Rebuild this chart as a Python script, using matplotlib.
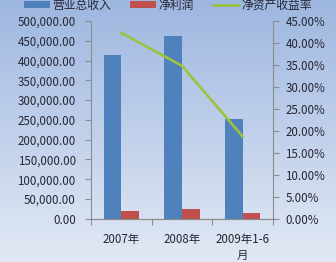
import matplotlib
matplotlib.use("Agg")
import matplotlib.pyplot as plt
import numpy as np
from matplotlib.ticker import FuncFormatter, FixedLocator

plt.rcParams['font.family'] = ['Noto Sans CJK SC', 'DejaVu Sans']

categories = ["2007年", "2008年", "2009年1-6\n月"]
revenue = [415000, 462500, 253000]
net_profit = [19500, 24500, 15200]
roe = [42.3, 34.8, 18.7]
series_names = ["营业总收入", "净利润", "净资产收益率"]

W, H = 336, 262
fig = plt.figure(figsize=(W / 100, H / 100), dpi=100)

# gradient background
bg = fig.add_axes([0, 0, 1, 1], zorder=-10)
grad = np.linspace(0, 1, 256).reshape(-1, 1)
top = np.array([158, 183, 224]) / 255
bot = np.array([226, 233, 245]) / 255
img = top[None, None, :] * (1 - grad[:, :, None]) + bot[None, None, :] * grad[:, :, None]
bg.imshow(img, aspect='auto', extent=[0, 1, 0, 1])
bg.axis('off')

ax = fig.add_axes([91 / W, 43.3 / H, 182 / W, 197.7 / H])
ax.patch.set_alpha(0)
x = np.arange(len(categories))
bw = 0.29
ax.bar(x - bw / 2, revenue, width=bw, color='#4f81bd', label=series_names[0], zorder=2)
ax.bar(x + bw / 2, net_profit, width=bw, color='#c0504d', label=series_names[1], zorder=2)
ax.set_xlim(-0.5, 2.5)
ax.set_ylim(0, 500000)
ax.set_yticks(np.arange(0, 500001, 50000))
ax.yaxis.set_major_formatter(FuncFormatter(lambda v, p: f"{v:,.2f}"))

ax2 = ax.twinx()
ax2.plot(x, roe, color='#9cc23f', lw=1.9, label=series_names[2], zorder=3)
ax2.set_ylim(0, 45)
ax2.set_yticks(np.arange(0, 45.1, 5))
ax2.yaxis.set_major_formatter(FuncFormatter(lambda v, p: f"{v:.2f}%"))

spine_c = '#8c8c8c'
txt_c = '#262633'
for a in (ax, ax2):
    a.spines['top'].set_visible(False)
    for s in ('left', 'right', 'bottom'):
        a.spines[s].set_color(spine_c)
        a.spines[s].set_linewidth(0.8)
ax.spines['right'].set_visible(False)
ax2.spines['left'].set_visible(False)

ax.tick_params(axis='y', direction='out', length=4, width=0.8, color=spine_c,
               labelsize=8.3, labelcolor=txt_c, pad=7)
ax2.tick_params(axis='y', direction='out', length=4, width=0.8, color=spine_c,
                labelsize=8.3, labelcolor=txt_c, pad=5)
ax.set_xticks(x)
ax.set_xticklabels(categories, fontsize=8.3, color=txt_c, linespacing=1.25, va='top')
ax.tick_params(axis='x', which='major', length=0, pad=10.5)
ax.xaxis.set_minor_locator(FixedLocator([-0.5, 0.5, 1.5, 2.5]))
ax.tick_params(axis='x', which='minor', direction='out', length=4, width=0.8, color=spine_c)
ax2.tick_params(axis='x', which='both', length=0)

h1, l1 = ax.get_legend_handles_labels()
h2, l2 = ax2.get_legend_handles_labels()
fig.legend(h1 + h2, l1 + l2, loc='center', bbox_to_anchor=(0.5, 1 - 5 / H), ncol=3,
           frameon=False, fontsize=8.5, handlelength=2.2, handleheight=0.55,
           columnspacing=1.6, handletextpad=0.2, labelcolor=txt_c)

fig.savefig("out.png", dpi=100)
